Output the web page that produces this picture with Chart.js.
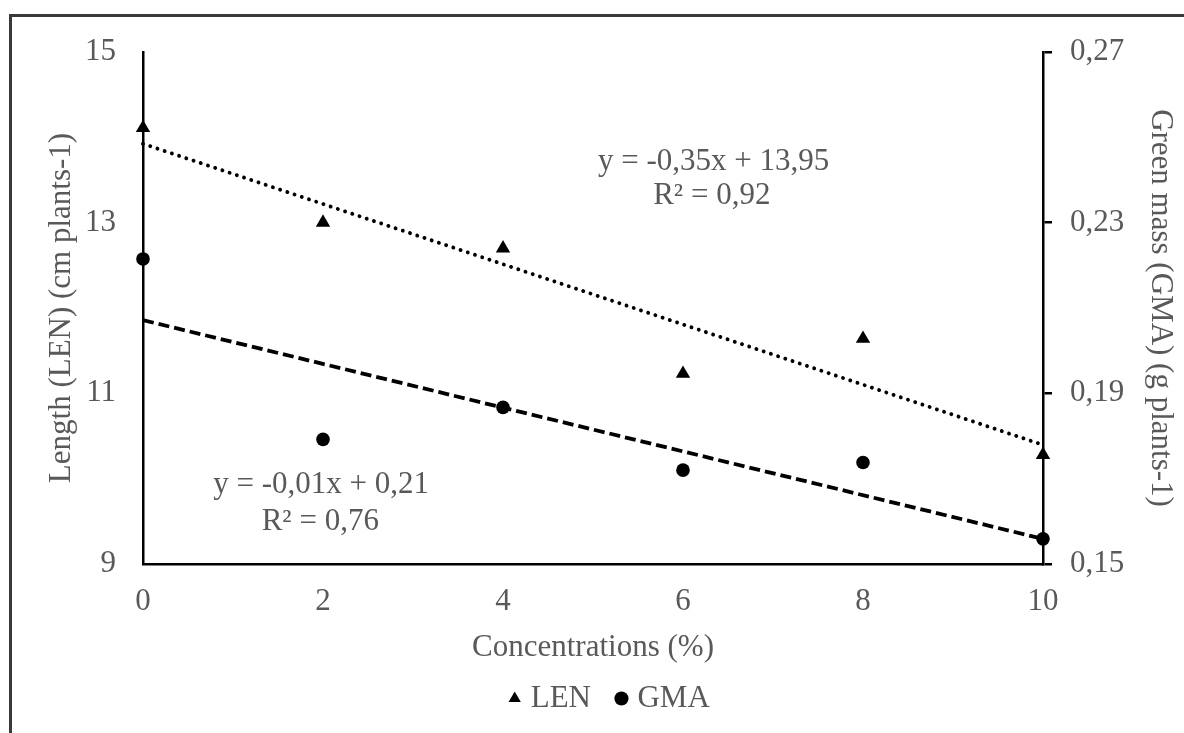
<!DOCTYPE html>
<html>
<head>
<meta charset="utf-8">
<script src="https://cdn.jsdelivr.net/npm/chart.js@4/dist/chart.umd.min.js"></script>
<style>
  html, body { margin: 0; padding: 0; background: #ffffff; overflow: hidden; }
  #wrap { position: relative; width: 1184px; height: 733px; }
  canvas { display: block; }
</style>
</head>
<body>
<div id="wrap"><canvas id="c"></canvas></div>
<script>
// ---- data ----
const concentrations = [0, 2, 4, 6, 8, 10];
const lenValues = [14.11, 13.0, 12.7, 11.23, 11.64, 10.28];     // Length (cm plants-1), left axis
const gmaValues = [0.2215, 0.1792, 0.1867, 0.172, 0.1738, 0.1559]; // Green mass (g plants-1), right axis
const xTicks = [0, 2, 4, 6, 8, 10];
const leftTicks = [9, 11, 13, 15];
const rightTicks = [0.15, 0.19, 0.23, 0.27];
const seriesNames = ['LEN', 'GMA'];
const equationTexts = ['y = -0,35x + 13,95', 'R² = 0,92', 'y = -0,01x + 0,21', 'R² = 0,76'];
// anchor of each equation line in data units [x, y, axis]
const equationAnchors = [[6.34, 13.71, 'yL'], [6.32, 13.31, 'yL'], [1.98, 0.1686, 'yR'], [1.97, 0.1599, 'yR']];

// least-squares fit (trend lines)
function linFit(xs, ys) {
  const n = xs.length;
  const mx = xs.reduce((a, b) => a + b, 0) / n;
  const my = ys.reduce((a, b) => a + b, 0) / n;
  let sxy = 0, sxx = 0;
  for (let i = 0; i < n; i++) { sxy += (xs[i] - mx) * (ys[i] - my); sxx += (xs[i] - mx) ** 2; }
  const slope = sxy / sxx;
  return { slope, intercept: my - slope * mx };
}
function trendPoints(xs, ys) {
  const f = linFit(xs, ys);
  const x0 = xs[0], x1 = xs[xs.length - 1];
  return [{ x: x0, y: f.intercept + f.slope * x0 }, { x: x1, y: f.intercept + f.slope * x1 }];
}

const FONT = "'Liberation Serif', 'Times New Roman', serif";
const TXT = '#595959';

const framePlugin = {
  id: 'frame',
  beforeDraw(chart) {
    const ctx = chart.ctx;
    ctx.save();
    ctx.fillStyle = '#ffffff';
    ctx.fillRect(0, 0, chart.width, chart.height);
    ctx.strokeStyle = '#3a3a3a';
    ctx.lineWidth = 3;
    ctx.beginPath();
    ctx.moveTo(10.5, chart.height + 5);
    ctx.lineTo(10.5, 15.5);
    ctx.lineTo(chart.width + 5, 15.5);
    ctx.stroke();
    ctx.restore();
  }
};

const equationPlugin = {
  id: 'equations',
  afterDatasetsDraw(chart) {
    const ctx = chart.ctx;
    ctx.save();
    ctx.font = '31px ' + FONT;
    ctx.fillStyle = TXT;
    ctx.textAlign = 'center';
    ctx.textBaseline = 'middle';
    equationTexts.forEach((t, i) => {
      const [dx, dy, ax] = equationAnchors[i];
      const px = chart.scales.x.getPixelForValue(dx);
      const py = chart.scales[ax].getPixelForValue(dy);
      ctx.fillText(t, px, py);
    });
    ctx.restore();
  }
};

const ctx = document.getElementById('c');
new Chart(ctx, {
  type: 'scatter',
  data: {
    datasets: [
      {
        label: seriesNames[0],
        data: concentrations.map((x, i) => ({ x, y: lenValues[i] })),
        yAxisID: 'yL',
        pointStyle: 'triangle',
        pointRadius: 8.3,
        pointHoverRadius: 8.3,
        backgroundColor: '#000000',
        borderColor: '#000000',
        borderWidth: 0,
        clip: false,
        order: 1
      },
      {
        label: seriesNames[1],
        data: concentrations.map((x, i) => ({ x, y: gmaValues[i] })),
        yAxisID: 'yR',
        pointStyle: 'circle',
        pointRadius: 6.8,
        pointHoverRadius: 6.8,
        backgroundColor: '#000000',
        borderColor: '#000000',
        borderWidth: 0,
        clip: false,
        order: 1
      },
      {
        label: 'trend LEN',
        data: trendPoints(concentrations, lenValues),
        yAxisID: 'yL',
        showLine: true,
        pointRadius: 0,
        borderColor: '#000000',
        borderWidth: 3.9,
        borderDash: [0.01, 7.6],
        borderCapStyle: 'round',
        clip: false,
        order: 2
      },
      {
        label: 'trend GMA',
        data: trendPoints(concentrations, gmaValues),
        yAxisID: 'yR',
        showLine: true,
        pointRadius: 0,
        borderColor: '#000000',
        borderWidth: 3.8,
        borderDash: [11, 5],
        borderCapStyle: 'butt',
        clip: false,
        order: 2
      }
    ]
  },
  options: {
    responsive: true,
    maintainAspectRatio: false,
    animation: false,
    events: [],
    layout: { padding: { top: 52, left: 40, right: 0, bottom: 9 } },
    scales: {
      x: {
        type: 'linear',
        position: 'bottom',
        min: 0, max: 10,
        afterBuildTicks(s) { s.ticks = xTicks.map(v => ({ value: v })); },
        afterFit(s) { s.height = 89; },
        grid: { display: false, drawTicks: false },
        border: { display: true, color: '#000000', width: 2.5 },
        ticks: { padding: 19, color: TXT, font: { family: FONT, size: 31 } },
        title: {
          display: true, text: 'Concentrations (%)', color: TXT,
          font: { family: FONT, size: 31 }, padding: { top: 0, bottom: -13.6 }
        }
      },
      yL: {
        type: 'linear',
        position: 'left',
        min: 9, max: 15,
        afterBuildTicks(s) { s.ticks = leftTicks.map(v => ({ value: v })); },
        afterFit(s) { s.width = 103; },
        grid: { display: false, drawTicks: false },
        border: { display: true, color: '#000000', width: 2.5 },
        ticks: { padding: 27, color: TXT, font: { family: FONT, size: 31 } },
        title: {
          display: true, text: 'Length (LEN) (cm plants-1)', color: TXT,
          font: { family: FONT, size: 31 }, padding: { top: 3.4, bottom: 0 }
        }
      },
      yR: {
        type: 'linear',
        position: 'right',
        min: 0.15, max: 0.27,
        afterBuildTicks(s) { s.ticks = rightTicks.map(v => ({ value: v })); },
        afterFit(s) { s.width = 141; },
        grid: { display: true, drawOnChartArea: false, drawTicks: true, tickLength: 9, color: '#000000', lineWidth: 2.5 },
        border: { display: true, color: '#000000', width: 2.5 },
        ticks: {
          padding: 18, color: TXT, font: { family: FONT, size: 31 },
          callback: v => v.toFixed(2).replace('.', ',')
        },
        title: {
          display: true, text: 'Green mass (GMA) (g plants-1)', color: TXT,
          font: { family: FONT, size: 31 }, padding: { top: 5.4, bottom: 0 }
        }
      }
    },
    plugins: {
      tooltip: { enabled: false },
      legend: {
        display: true,
        position: 'bottom',
        labels: {
          filter: item => seriesNames.includes(item.text),
          usePointStyle: true,
          boxWidth: 1,
          boxHeight: 10,
          padding: 30,
          color: TXT,
          font: { family: FONT, size: 31 }
        }
      }
    }
  },
  plugins: [framePlugin, equationPlugin]
});
</script>
</body>
</html>
